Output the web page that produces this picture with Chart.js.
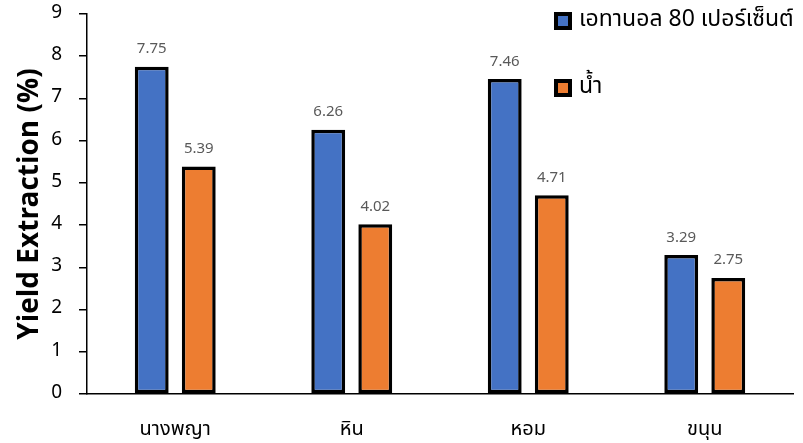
<!DOCTYPE html>
<html>
<head>
<meta charset="utf-8">
<script src="https://cdn.jsdelivr.net/npm/chart.js@4"></script>
<style>
  html, body { margin: 0; padding: 0; background: #fff; }
  #wrap { width: 803px; height: 443px; position: relative; }
</style>
</head>
<body>
<div id="wrap"><canvas id="c" width="803" height="443"></canvas></div>
<script>
// Extraction yield per plant sample, by solvent
const categories = ['นางพญา', 'หิน', 'หอม', 'ขนุน'];
const ethanolValues = [7.75, 6.26, 7.46, 3.29];
const waterValues = [5.39, 4.02, 4.71, 2.75];
const seriesNames = ['เอทานอล 80 เปอร์เซ็นต์', 'น้ำ'];
const yTicks = [0, 1, 2, 3, 4, 5, 6, 7, 8, 9];

const FONT = "Tahoma, 'Leelawadee UI', 'Noto Sans Thai', 'Noto Sans', 'DejaVu Sans', sans-serif";

// Value labels above each bar
const valueLabels = {
  id: 'valueLabels',
  afterDatasetsDraw(chart) {
    const ctx = chart.ctx;
    ctx.save();
    ctx.fillStyle = '#595959';
    ctx.font = '15px ' + FONT;
    ctx.textAlign = 'center';
    ctx.textBaseline = 'bottom';
    chart.data.datasets.forEach((ds, i) => {
      chart.getDatasetMeta(i).data.forEach((bar, j) => {
        ctx.fillText(ds.data[j].toFixed(2), bar.x, bar.y - 9);
      });
    });
    ctx.restore();
  }
};

// Vertical legend in the upper right corner
const sideLegend = {
  id: 'sideLegend',
  afterDraw(chart) {
    const ctx = chart.ctx;
    ctx.save();
    ctx.font = '23px ' + FONT;
    ctx.textBaseline = 'middle';
    ctx.textAlign = 'left';
    const rows = [21, 88];
    chart.data.datasets.forEach((ds, i) => {
      const y = rows[i];
      ctx.fillStyle = '#000';
      ctx.fillRect(554, y - 9, 18, 18);
      ctx.fillStyle = ds.backgroundColor;
      ctx.fillRect(558, y - 5, 10, 10);
      ctx.fillStyle = '#000';
      ctx.fillText(ds.label, 579, y);
    });
    ctx.restore();
  }
};

new Chart(document.getElementById('c'), {
  type: 'bar',
  data: {
    labels: categories,
    datasets: [
      {
        label: seriesNames[0],
        data: ethanolValues,
        backgroundColor: '#4472C4',
        borderColor: '#000',
        borderWidth: 3.5,
        borderSkipped: false
      },
      {
        label: seriesNames[1],
        data: waterValues,
        backgroundColor: '#ED7D31',
        borderColor: '#000',
        borderWidth: 3.5,
        borderSkipped: false
      }
    ]
  },
  options: {
    responsive: false,
    animation: false,
    events: [],
    categoryPercentage: 0.533,
    barPercentage: 0.72,
    layout: { padding: { top: 14, right: 10, left: 0, bottom: 0 } },
    plugins: {
      legend: { display: false },
      tooltip: { enabled: false }
    },
    scales: {
      x: {
        grid: { display: false, drawTicks: false },
        border: { color: '#000', width: 1.5 },
        ticks: { color: '#000', font: { family: FONT, size: 20 }, padding: 25 },
        afterFit(s) {
          s.height = 49;
          s.paddingLeft = 0;
          s.paddingRight = 0;
        }
      },
      y: {
        min: 0,
        max: 9,
        afterBuildTicks(s) { s.ticks = yTicks.map(v => ({ value: v })); },
        grid: { drawOnChartArea: false, tickLength: 8, color: '#000', lineWidth: 1.5 },
        border: { color: '#000', width: 1.5 },
        ticks: { color: '#000', font: { family: FONT, size: 19 }, padding: 17 },
        title: {
          display: true,
          text: 'Yield Extraction (%)',
          color: '#000',
          font: { family: FONT, size: 28, weight: 'bold' },
          padding: { top: 16, bottom: 0 }
        },
        afterFit(s) {
          s.width = 87;
          s.paddingTop = 0;
          s.paddingBottom = 0;
        }
      }
    }
  },
  plugins: [valueLabels, sideLegend]
});
</script>
</body>
</html>
